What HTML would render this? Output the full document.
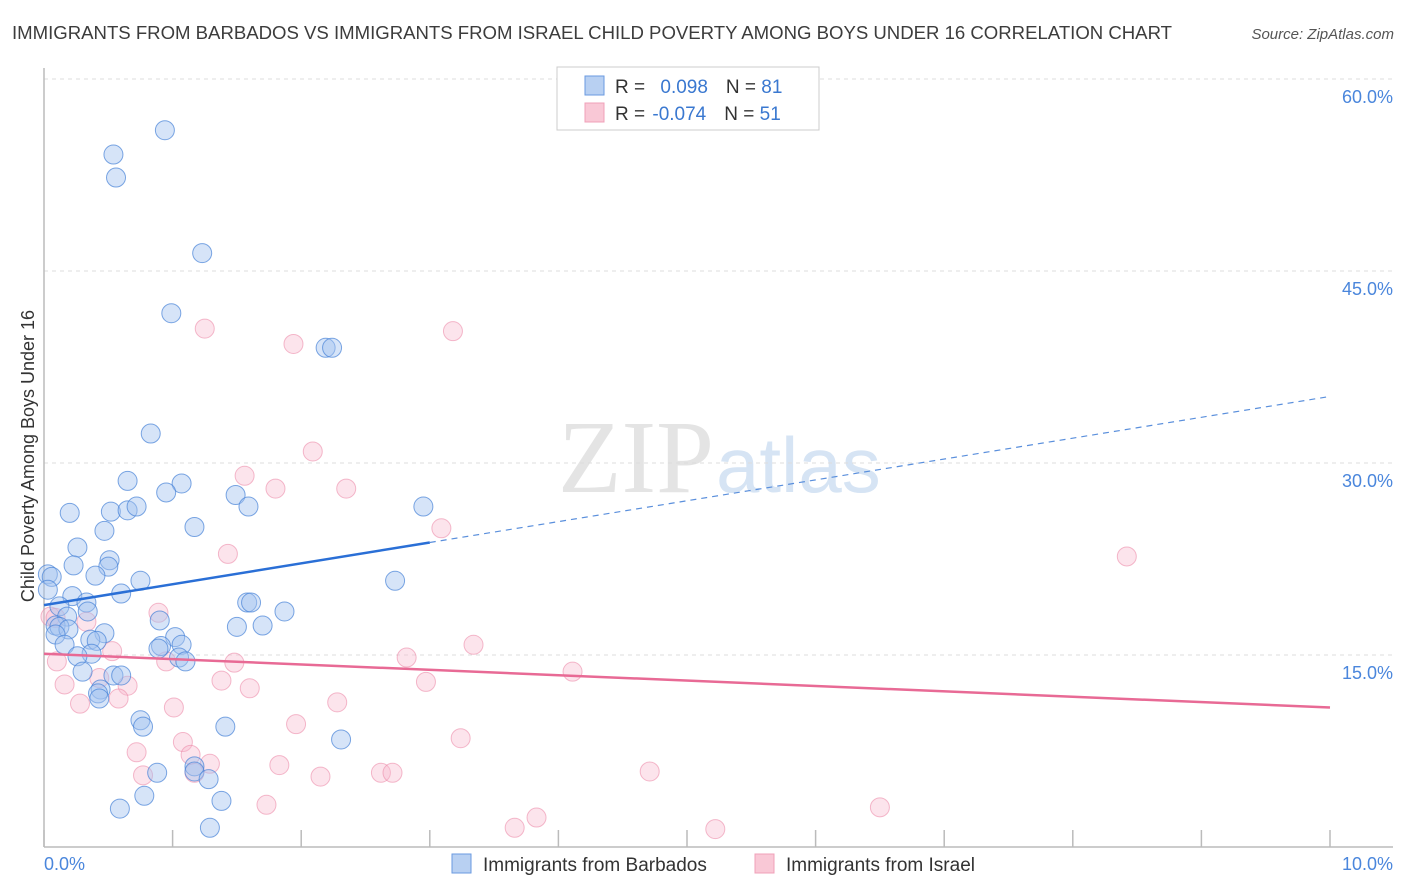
<!DOCTYPE html>
<html><head><meta charset="utf-8"><style>
body{margin:0;background:#fff;font-family:"Liberation Sans",sans-serif;}
#wrap{position:relative;width:1406px;height:892px;overflow:hidden;}
</style></head><body>
<div id="wrap">
<svg id="svg" width="1406" height="892" xmlns="http://www.w3.org/2000/svg">
<text x="12" y="39" font-size="18.6" fill="#3c3c3c" textLength="1160">IMMIGRANTS FROM BARBADOS VS IMMIGRANTS FROM ISRAEL CHILD POVERTY AMONG BOYS UNDER 16 CORRELATION CHART</text>
<text x="1394" y="39" font-size="15" fill="#555" font-style="italic" text-anchor="end">Source: ZipAtlas.com</text>
<text x="714" y="492" font-size="104" fill="#e4e4e4" text-anchor="end" font-family="Liberation Serif,serif">ZIP</text>
<text x="716" y="492" font-size="78" fill="#d6e4f4">atlas</text>
<text transform="translate(34,456) rotate(-90)" font-size="18" fill="#333" text-anchor="middle">Child Poverty Among Boys Under 16</text>
<g id="grid"></g><g id="ticks"></g>
<line x1="44" y1="68" x2="44" y2="847" stroke="#bbb" stroke-width="1.5"/>
<line x1="44" y1="847" x2="1393" y2="847" stroke="#bbb" stroke-width="1.5"/>
<text x="44" y="870" font-size="18" fill="#4a86dc">0.0%</text>
<text x="1393" y="870" font-size="18" fill="#4a86dc" text-anchor="end">10.0%</text>
<g id="pink"></g><g id="blue"></g><g id="trend"></g>
<g>
<rect x="557" y="67" width="262" height="63" fill="#fff" stroke="#ccc"/>
<rect x="585" y="76" width="19" height="19" fill="#b8d0f2" stroke="#6a9ae0"/>
<rect x="585" y="103" width="19" height="19" fill="#f9c8d6" stroke="#f0a0b8"/>
<text x="615" y="93" font-size="19" fill="#333">R = <tspan fill="#3a78d0" dx="10">0.098</tspan><tspan dx="18">N = </tspan><tspan fill="#3a78d0">81</tspan></text>
<text x="615" y="120" font-size="19" fill="#333">R = <tspan fill="#3a78d0" dx="2">-0.074</tspan><tspan dx="18">N = </tspan><tspan fill="#3a78d0">51</tspan></text>
</g>
<g>
<rect x="452" y="854" width="19" height="19" fill="#b8d0f2" stroke="#6a9ae0"/>
<text x="483" y="871" font-size="19" fill="#333">Immigrants from Barbados</text>
<rect x="755" y="854" width="19" height="19" fill="#f9c8d6" stroke="#f0a0b8"/>
<text x="786" y="871" font-size="19" fill="#333">Immigrants from Israel</text>
</g>
</svg></div>
<script>
const yTicks=[15,30,45,60];
const xTickVals=[0,1,2,3,4,5,6,7,8,9,10];
const blueX=[0.94,0.54,0.56,1.23,0.99,2.19,2.24,0.83,0.65,1.07,0.95,1.49,0.20,0.52,0.65,0.72,1.59,1.17,2.95,0.47,0.26,0.51,0.23,0.50,0.03,0.06,0.40,0.75,2.73,0.03,0.60,0.22,0.33,1.58,1.61,0.12,0.34,1.87,0.18,0.90,1.70,1.50,0.09,0.12,0.19,0.09,0.47,0.36,0.41,1.02,0.91,0.16,1.07,0.89,0.37,0.26,1.05,1.10,0.30,0.54,0.60,0.44,0.42,0.43,0.75,0.77,1.41,2.31,1.17,1.17,0.88,1.28,0.78,1.38,0.59,1.29];
const blueY=[56.0,54.1,52.3,46.4,41.7,39.0,39.0,32.3,28.6,28.4,27.7,27.5,26.1,26.2,26.3,26.6,26.6,25.0,26.6,24.7,23.4,22.4,22.0,21.9,21.3,21.1,21.2,20.8,20.8,20.1,19.8,19.6,19.1,19.1,19.1,18.8,18.4,18.4,18.0,17.7,17.3,17.2,17.3,17.2,17.0,16.6,16.7,16.2,16.1,16.4,15.7,15.8,15.8,15.5,15.1,14.9,14.8,14.5,13.7,13.4,13.4,12.3,12.0,11.6,9.9,9.4,9.4,8.4,6.3,5.9,5.8,5.3,4.0,3.6,3.0,1.5];
const pinkX=[1.25,1.94,3.18,2.09,1.56,1.80,2.35,3.09,1.43,8.42,0.89,0.05,0.09,0.33,3.34,0.53,2.82,0.10,1.48,0.95,4.11,0.16,0.43,0.65,2.97,1.38,1.60,0.58,0.28,1.01,2.28,1.96,3.24,1.08,0.72,1.14,1.29,1.83,2.62,2.71,0.77,2.15,1.17,4.71,1.73,6.50,3.83,3.66,5.22];
const pinkY=[40.5,39.3,40.3,30.9,29.0,28.0,28.0,24.9,22.9,22.7,18.3,18.0,17.9,17.6,15.8,15.3,14.8,14.5,14.4,14.5,13.7,12.7,13.2,12.6,12.9,13.0,12.4,11.6,11.2,10.9,11.3,9.6,8.5,8.2,7.4,7.2,6.5,6.4,5.8,5.8,5.6,5.5,5.8,5.9,3.3,3.1,2.3,1.5,1.4];
const blueTrend=[18.9,35.2];
const pinkTrend=[15.1,10.9];
const NS='http://www.w3.org/2000/svg';
const sx=v=>44+v*128.6, sy=v=>847-v*12.8;
function mk(tag,attrs,parent){const e=document.createElementNS(NS,tag);for(const k in attrs)e.setAttribute(k,attrs[k]);document.getElementById(parent).appendChild(e);return e;}
yTicks.forEach(t=>{
 const l=mk('line',{x1:44,x2:1393,y1:sy(t),y2:sy(t),stroke:'#ddd','stroke-dasharray':'4,4'},'grid');
 
 
 const tx=mk('text',{x:1393,y:sy(t)+24,'font-size':18,fill:'#4a86dc','text-anchor':'end'},'grid');
 tx.textContent=t.toFixed(1)+'%';
 
 
});
xTickVals.forEach(t=>{
 const l=mk('line',{x1:sx(t),x2:sx(t),y1:830,y2:847,stroke:'#bbb','stroke-width':1.5},'ticks');
 
 
});
pinkX.forEach((x,i)=>{
 const c=mk('circle',{cx:sx(x),cy:sy(pinkY[i]),r:9.5,fill:'rgba(248,185,205,0.38)',stroke:'rgba(236,140,170,0.6)','stroke-width':1},'pink');
 
 
});
blueX.forEach((x,i)=>{
 const c=mk('circle',{cx:sx(x),cy:sy(blueY[i]),r:9.5,fill:'rgba(165,196,240,0.45)',stroke:'rgba(70,130,215,0.7)','stroke-width':1},'blue');
 
 
});
const by=x=>blueTrend[0]+(blueTrend[1]-blueTrend[0])*x/10;
let t1=mk('line',{x1:sx(0),y1:sy(by(0)),x2:sx(3),y2:sy(by(3)),stroke:'#2a6fd6','stroke-width':2.5},'trend');


let t2=mk('line',{x1:sx(3),y1:sy(by(3)),x2:sx(10),y2:sy(by(10)),stroke:'#5a8fdc','stroke-width':1.2,'stroke-dasharray':'6,5'},'trend');


let t3=mk('line',{x1:sx(0),y1:sy(pinkTrend[0]),x2:sx(10),y2:sy(pinkTrend[1]),stroke:'#e86a95','stroke-width':2.5},'trend');


</script>
</body></html>
